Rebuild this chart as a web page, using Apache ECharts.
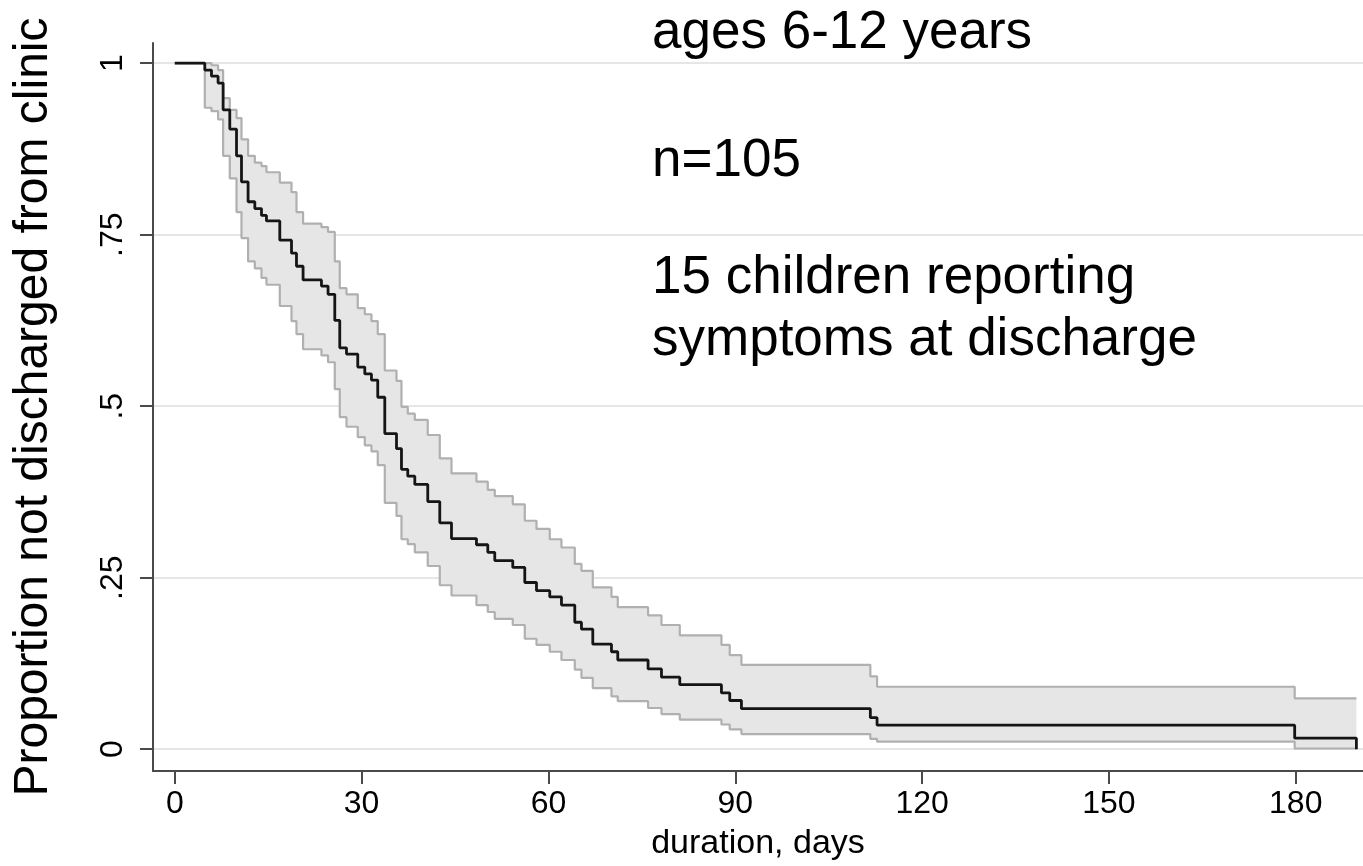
<!DOCTYPE html>
<html><head><meta charset="utf-8">
<script src="https://cdn.jsdelivr.net/npm/echarts@6/dist/echarts.min.js"></script>
<style>html,body{margin:0;padding:0;background:#fff}#c{width:1363px;height:866px}</style>
</head><body><div id="c"></div>
<script>
// Event times (days) of the Kaplan-Meier estimate
const eventDays = [4.82,5.89,6.95,7.76,8.83,9.91,10.71,11.77,12.85,13.92,14.72,16.86,18.74,19.54,20.60,23.55,24.61,25.69,26.49,27.57,29.38,30.51,31.58,32.59,33.72,35.60,36.40,37.41,38.54,40.62,42.55,44.43,48.44,50.26,51.38,54.27,56.20,58.08,60.21,62.09,64.23,65.30,67.12,70.12,71.13,76.00,78.15,81.09,87.78,89.11,90.99,111.69,112.77,179.83,189.74];
// Proportion not discharged after each event
const survival = [.990,.981,.971,.932,.904,.865,.827,.798,.788,.778,.770,.742,.723,.704,.684,.675,.663,.625,.585,.576,.557,.547,.538,.513,.460,.438,.408,.398,.386,.361,.330,.307,.298,.287,.275,.265,.243,.231,.222,.210,.185,.175,.153,.142,.130,.117,.105,.094,.082,.071,.059,.046,.035,.016,0];
// Upper 95% confidence bound after each event
const upperCI = [1.0,.997,.990,.949,.932,.920,.889,.865,.855,.850,.841,.826,.812,.783,.766,.761,.754,.711,.672,.663,.643,.634,.624,.605,.552,.537,.499,.489,.480,.458,.424,.402,.390,.378,.369,.357,.333,.321,.306,.294,.270,.260,.236,.222,.207,.195,.181,.166,.152,.137,.123,.106,.091,.074,.074];
// Lower 95% confidence bound after each event
const lowerCI = [.935,.930,.918,.865,.832,.783,.745,.711,.701,.687,.677,.646,.624,.605,.583,.574,.564,.525,.484,.470,.455,.443,.434,.414,.359,.340,.306,.299,.287,.267,.239,.224,.210,.200,.190,.181,.161,.152,.142,.130,.116,.104,.089,.077,.070,.060,.051,.043,.036,.029,.022,.015,.011,.001,.001];
const xTicks = [0,30,60,90,120,150,180];
const yTicks = [0,0.25,0.5,0.75,1];
const yTickLabels = {0:'0',0.25:'.25',0.5:'.5',0.75:'.75',1:'1'};
const yTitle = 'Proportion not discharged from clinic';
const xTitle = 'duration, days';
const notes = ['ages 6-12 years','n=105','15 children reporting','symptoms at discharge'];

function stepData(vals){
  const d=[[0,1]];
  eventDays.forEach((t,i)=>d.push([t,vals[i]]));
  return d;
}
const FONT='"Liberation Sans", Arial, Helvetica, sans-serif';
const chart = echarts.init(document.getElementById('c'), null, {renderer:'canvas'});
const axisCol='#4a4a4a';
chart.setOption({
  animation:false,
  backgroundColor:'#fff',
  grid:{left:153,right:0,top:43,bottom:89,containLabel:false},
  xAxis:{
    type:'value', min:-3.5, max:190.8,
    axisLine:{show:true,onZero:false,lineStyle:{color:axisCol,width:2}},
    axisTick:{show:true,length:13,customValues:xTicks,lineStyle:{color:axisCol,width:2}},
    axisLabel:{customValues:xTicks,fontSize:32,color:'#000',margin:17,fontFamily:FONT},
    splitLine:{show:false},
    name:xTitle,nameLocation:'middle',nameGap:56,
    nameTextStyle:{fontSize:34,color:'#000',fontFamily:FONT}
  },
  yAxis:{
    type:'value', min:-0.0318, max:1.0294,
    axisLine:{show:true,onZero:false,lineStyle:{color:axisCol,width:2}},
    axisTick:{show:true,length:13,customValues:yTicks,lineStyle:{color:axisCol,width:2}},
    axisLabel:{customValues:yTicks,rotate:90,fontSize:32,color:'#000',margin:24,fontFamily:FONT,
      formatter:v=>yTickLabels[v]!==undefined?yTickLabels[v]:''},
    splitLine:{show:true,lineStyle:{color:'#e6e6e6',width:2}},
    name:yTitle,nameLocation:'middle',nameGap:95,
    nameTextStyle:{fontSize:48,color:'#000',fontFamily:FONT}
  },
  series:[
    {
      type:'custom', silent:true, clip:true, z:1,
      data:[[0,0]], encode:{x:0,y:1},
      renderItem:function(params,api){
        const pts=[];
        const n=eventDays.length;
        for(let i=0;i<n;i++){
          pts.push(api.coord([eventDays[i], i>0?upperCI[i-1]:1]));
          pts.push(api.coord([eventDays[i], upperCI[i]]));
        }
        for(let i=n-1;i>=0;i--){
          pts.push(api.coord([eventDays[i], lowerCI[i]]));
          pts.push(api.coord([eventDays[i], i>0?lowerCI[i-1]:1]));
        }
        return {type:'polygon',shape:{points:pts},style:{fill:'#e6e6e6'}};
      }
    },
    {type:'line',step:'end',data:stepData(upperCI),showSymbol:false,symbol:'none',z:2,
      lineStyle:{color:'#b0b0b0',width:2.2},silent:true},
    {type:'line',step:'end',data:stepData(lowerCI),showSymbol:false,symbol:'none',z:2,
      lineStyle:{color:'#b0b0b0',width:2.2},silent:true},
    {type:'line',step:'end',data:stepData(survival),showSymbol:false,symbol:'none',z:3,
      lineStyle:{color:'#151515',width:2.8},silent:true}
  ],
  graphic:[
    {type:'text',left:652,top:7,style:{text:notes[0],font:'53px '+FONT,fill:'#000'}},
    {type:'text',left:652,top:135,style:{text:notes[1],font:'53px '+FONT,fill:'#000'}},
    {type:'text',left:652,top:252,style:{text:notes[2],font:'53px '+FONT,fill:'#000'}},
    {type:'text',left:652,top:314,style:{text:notes[3],font:'53px '+FONT,fill:'#000'}}
  ]
});
</script></body></html>
